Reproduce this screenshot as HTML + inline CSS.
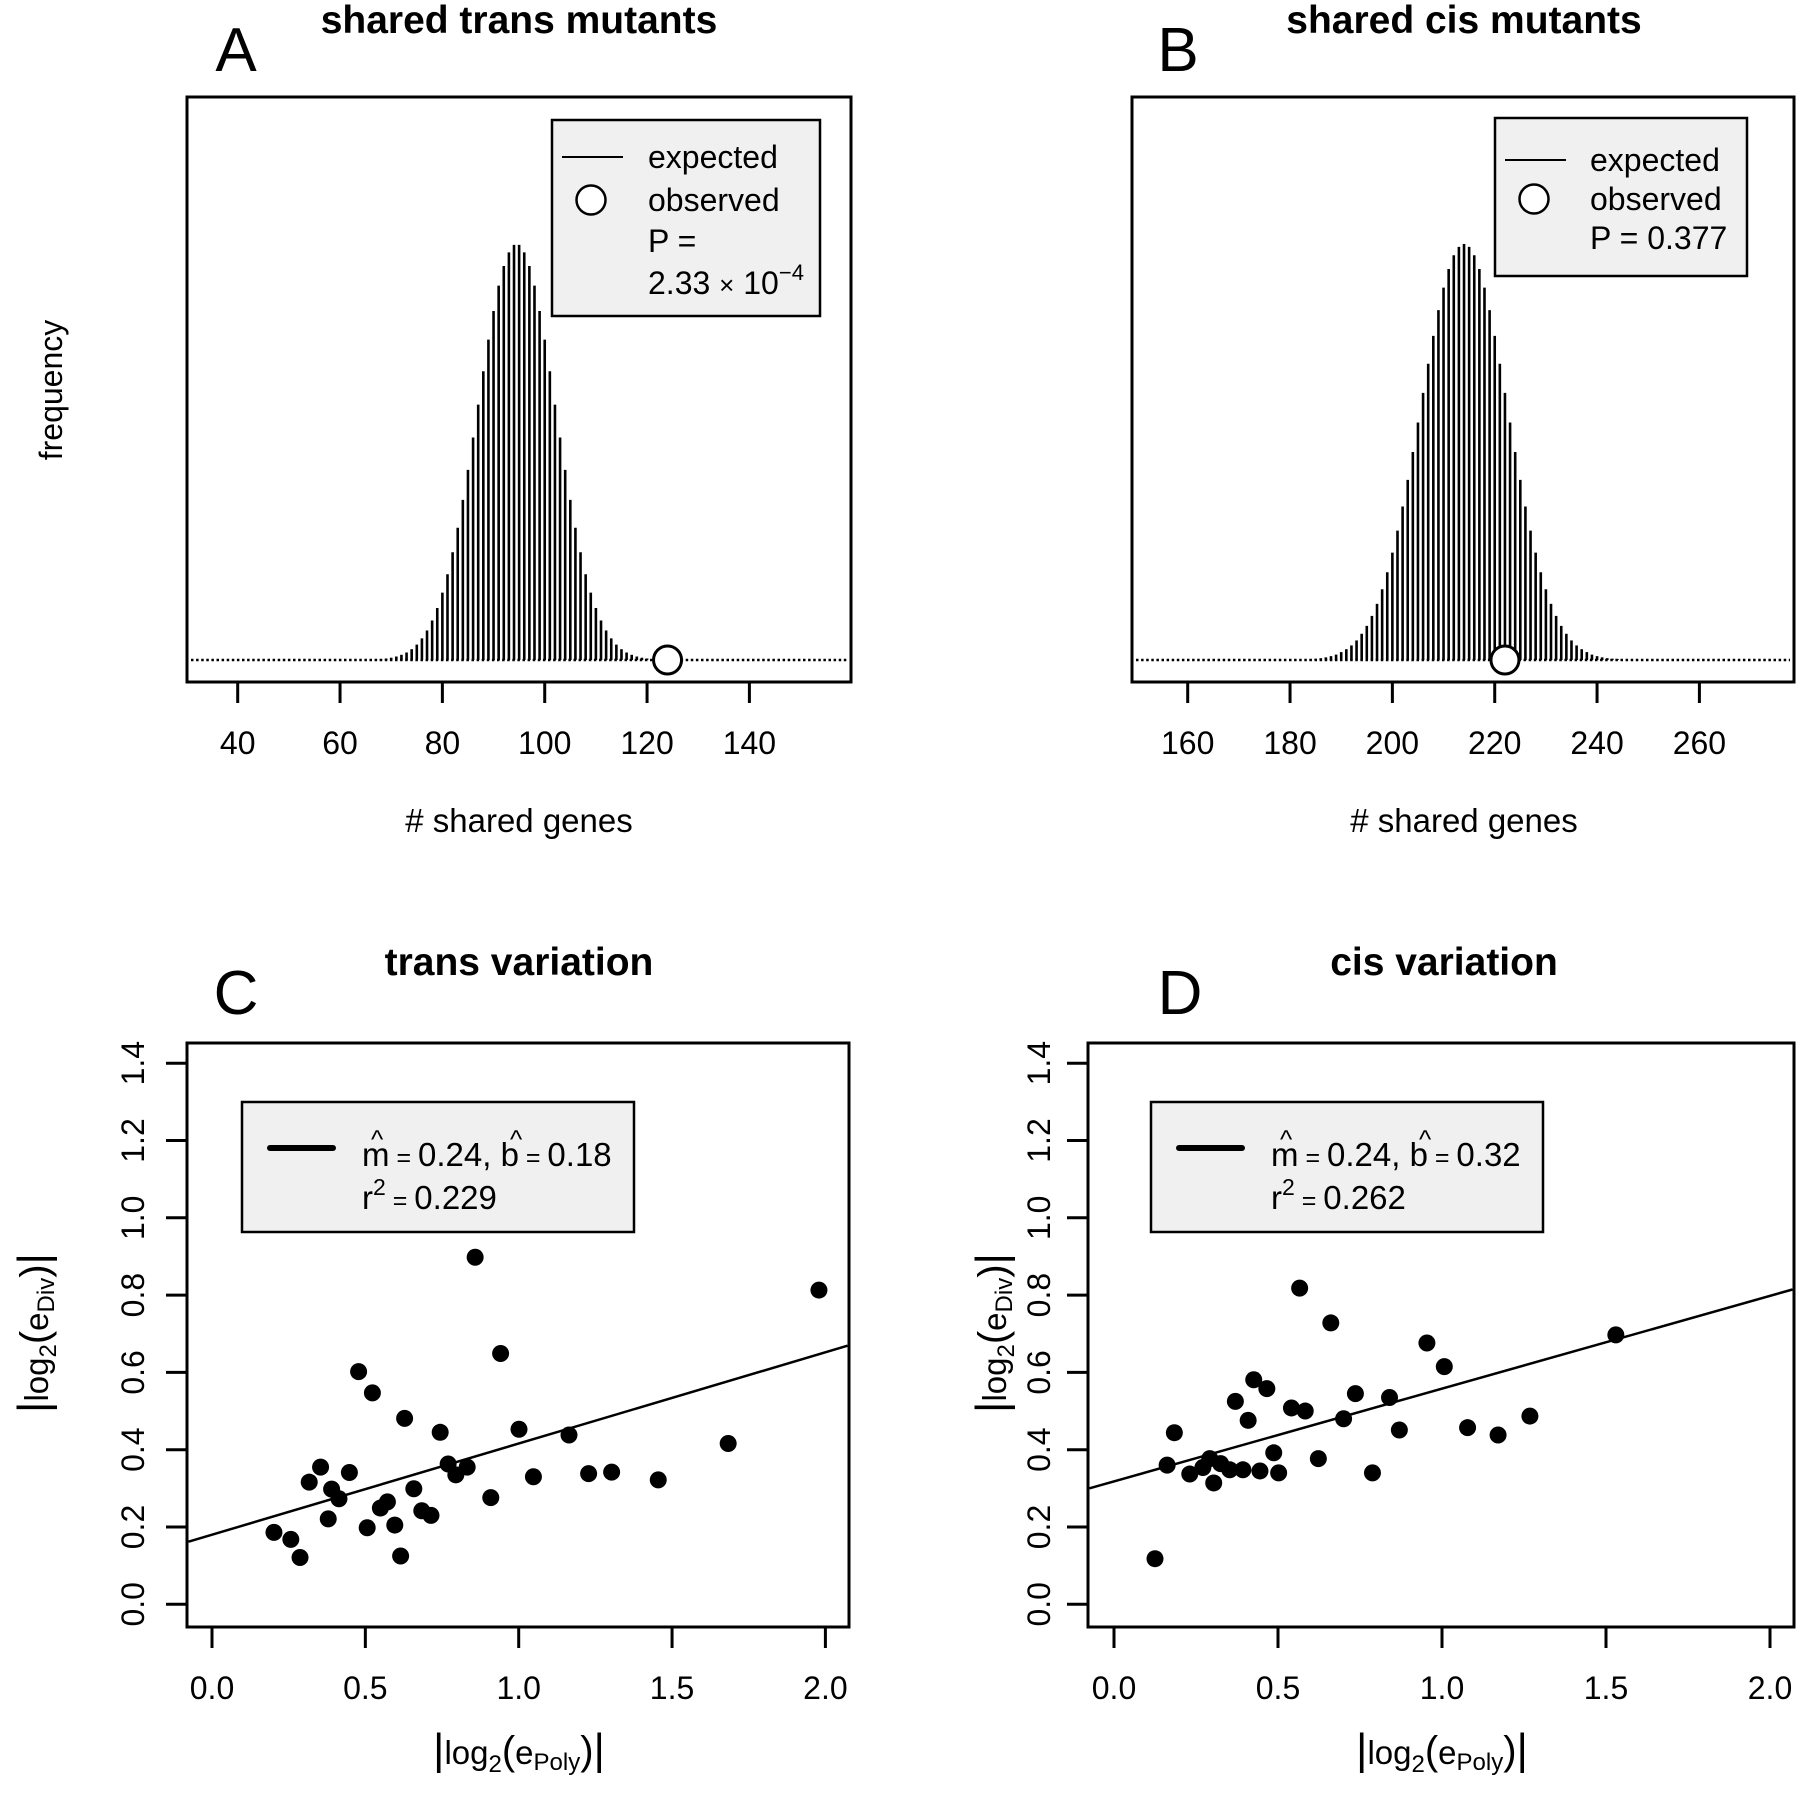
<!DOCTYPE html>
<html><head><meta charset="utf-8"><style>
html,body{margin:0;padding:0;background:#fff}
svg{display:block;font-family:"Liberation Sans",Arial,sans-serif}
</style></head><body>
<svg id="fig" width="1800" height="1793" viewBox="0 0 1800 1793" xmlns="http://www.w3.org/2000/svg">
<g id="pA">
 <text x="519" y="33" font-size="39" font-weight="bold" text-anchor="middle">shared trans mutants</text>
 <text x="236" y="71" font-size="62" text-anchor="middle">A</text>
 <text transform="translate(62,390) rotate(-90)" font-size="32" text-anchor="middle">frequency</text>
 <text x="519" y="832" font-size="33" text-anchor="middle"># shared genes</text>
</g>
<g id="pB">
 <text x="1464" y="33" font-size="39" font-weight="bold" text-anchor="middle">shared cis mutants</text>
 <text x="1178" y="71" font-size="62" text-anchor="middle">B</text>
 <text x="1464" y="832" font-size="33" text-anchor="middle"># shared genes</text>
</g>
<g id="pC">
 <text x="519" y="975" font-size="39" font-weight="bold" text-anchor="middle">trans variation</text>
 <text x="236" y="1014" font-size="62" text-anchor="middle">C</text>
</g>
<g id="pD">
 <text x="1444" y="975" font-size="39" font-weight="bold" text-anchor="middle">cis variation</text>
 <text x="1180" y="1014" font-size="62" text-anchor="middle">D</text>
</g>
</svg>
<script>
// ---- data ----
const histAStart = 66;
const histAValues = [0.0009,0.0014,0.0023,0.0036,0.0055,0.0084,0.0125,0.018,0.026,0.037,0.052,0.071,0.095,0.125,0.162,0.206,0.259,0.318,0.385,0.457,0.535,0.614,0.694,0.77,0.839,0.9,0.947,0.98,0.998,0.998,0.98,0.947,0.9,0.839,0.77,0.694,0.614,0.535,0.457,0.385,0.318,0.259,0.206,0.162,0.125,0.095,0.071,0.052,0.037,0.026,0.018,0.0125,0.0084,0.0055,0.0036,0.0023,0.0014,0.0009];
const histAObserved = 124;
const histATicks = [40,60,80,100,120,140];
const histBStart = 184;
const histBValues = [0.002,0.003,0.0044,0.0064,0.0093,0.013,0.019,0.026,0.035,0.047,0.063,0.082,0.106,0.135,0.17,0.211,0.258,0.311,0.369,0.433,0.5,0.571,0.642,0.712,0.779,0.841,0.895,0.94,0.973,0.993,1,0.993,0.973,0.94,0.895,0.841,0.779,0.712,0.642,0.571,0.5,0.433,0.369,0.311,0.258,0.211,0.17,0.135,0.106,0.082,0.063,0.047,0.035,0.026,0.019,0.013,0.0093,0.0064,0.0044,0.003,0.002];
const histBObserved = 222;
const histBTicks = [160,180,200,220,240,260];
const transX = [0.202,0.257,0.287,0.317,0.354,0.379,0.390,0.414,0.448,0.478,0.506,0.523,0.549,0.572,0.596,0.615,0.628,0.658,0.684,0.714,0.744,0.770,0.795,0.832,0.858,0.909,0.941,1.001,1.048,1.164,1.228,1.303,1.455,1.683,1.979];
const transY = [0.186,0.168,0.121,0.316,0.355,0.221,0.298,0.273,0.341,0.602,0.198,0.547,0.249,0.265,0.205,0.125,0.481,0.299,0.242,0.230,0.445,0.363,0.335,0.355,0.898,0.276,0.649,0.453,0.330,0.438,0.338,0.342,0.322,0.416,0.813];
const transFit = [0.236,0.18];
const cisX = [0.125,0.162,0.184,0.231,0.271,0.292,0.304,0.325,0.353,0.370,0.393,0.409,0.426,0.445,0.466,0.487,0.502,0.541,0.566,0.583,0.623,0.661,0.700,0.736,0.788,0.840,0.870,0.954,1.007,1.078,1.171,1.268,1.530];
const cisY = [0.118,0.360,0.444,0.337,0.354,0.377,0.314,0.364,0.348,0.525,0.348,0.476,0.581,0.345,0.558,0.392,0.340,0.508,0.818,0.500,0.377,0.728,0.480,0.545,0.340,0.535,0.451,0.676,0.615,0.457,0.438,0.487,0.697];
const cisFit = [0.24,0.318];
const scatXTicks = [0.0,0.5,1.0,1.5,2.0];
const scatYTicks = [0.0,0.2,0.4,0.6,0.8,1.0,1.2,1.4];

const NS="http://www.w3.org/2000/svg";
function mk(parent,tag,attrs,text){const e=document.createElementNS(NS,tag);for(const k in attrs)e.setAttribute(k,attrs[k]);if(text!==undefined)e.textContent=text;parent.appendChild(e);return e;}

function histPanel(g,box,xs,starts,vals,obs,ticks,legend){
  const x=v=>xs.x0+(v-xs.v0)*xs.k;
  const base=660, maxH=416, y=h=>base-h*maxH;
  const frame=mk(g,'rect',{x:box.l,y:box.t,width:box.r-box.l,height:box.b-box.t,fill:'none',stroke:'#000','stroke-width':3});
  
  
  const dl=mk(g,'line',{x1:box.l+4,y1:base,x2:box.r-4,y2:base,stroke:'#000','stroke-width':2.5,'stroke-dasharray':'2.5 2.6'});
  
  
  vals.forEach((v,i)=>{
    const xv=x(starts+i);
    const b=mk(g,'line',{x1:xv,y1:base,x2:xv,y2:y(v),stroke:'#000','stroke-width':2.6});
    
    
  });
  const c=mk(g,'circle',{cx:x(obs),cy:base,r:14,fill:'#fff',stroke:'#000','stroke-width':3});
  
  
  ticks.forEach(t=>{
    const tl=mk(g,'line',{x1:x(t),y1:box.b,x2:x(t),y2:box.b+21,stroke:'#000','stroke-width':3});
    
    
    const tt=mk(g,'text',{x:x(t),y:754,'font-size':32,'text-anchor':'middle'},String(t));
    
    
  });
  const lg=mk(g,'g',{});
  
  
  const lr=mk(lg,'rect',{x:legend.l,y:legend.t,width:legend.w,height:legend.h,fill:'#f0f0f0',stroke:'#000','stroke-width':2.5});
  
  
  const ll=mk(lg,'line',{x1:legend.l+10,y1:legend.rows[0],x2:legend.l+71,y2:legend.rows[0],stroke:'#000','stroke-width':2});
  
  
  const lc=mk(lg,'circle',{cx:legend.l+39,cy:legend.rows[1],r:14.5,fill:'#fff',stroke:'#000','stroke-width':2.5});
  
  
  legend.texts.forEach((t,i)=>{
    const te=mk(lg,'text',{x:legend.tx,y:legend.rows[i]+11,'font-size':32});
    te.innerHTML=t;
    
    
  });
}

histPanel(document.getElementById('pA'),{l:187,r:851,t:97,b:682},{x0:237.7,v0:40,k:5.117},histAStart,histAValues,histAObserved,histATicks,
 {l:552,t:120,w:268,h:196,rows:[157,200,241,283],tx:648,texts:['expected','observed','P =','2.33 <tspan font-size="26">×</tspan> 10<tspan dy="-14" font-size="22">−4</tspan>']});
histPanel(document.getElementById('pB'),{l:1132,r:1794,t:97,b:682},{x0:1187.7,v0:160,k:5.117},histBStart,histBValues,histBObserved,histBTicks,
 {l:1495,t:118,w:252,h:158,rows:[160,199,238],tx:1590,texts:['expected','observed','P = 0.377']});

function scatPanel(g,box,xs,xv,yv,fit,legend,yLabX,yTitleX,xTitleX){
  const x=v=>xs.x0+v*xs.k;
  const y=v=>1604.3-v*386.5;
  const frame=mk(g,'rect',{x:box.l,y:box.t,width:box.r-box.l,height:box.b-box.t,fill:'none',stroke:'#000','stroke-width':3});
  
  
  scatXTicks.forEach(t=>{
    const tl=mk(g,'line',{x1:x(t),y1:box.b,x2:x(t),y2:box.b+21,stroke:'#000','stroke-width':3});
    
    
    const tt=mk(g,'text',{x:x(t),y:1699,'font-size':32,'text-anchor':'middle'},t.toFixed(1));
    
    
  });
  scatYTicks.forEach(t=>{
    const tl=mk(g,'line',{x1:box.l,y1:y(t),x2:box.l-21,y2:y(t),stroke:'#000','stroke-width':3});
    
    
    const tt=mk(g,'text',{transform:`translate(${yLabX},${y(t)}) rotate(-90)`,'font-size':32,'text-anchor':'middle'},t.toFixed(1));
    
    
  });
  const xl=box.l+1.5, xr=box.r-1.5;
  const vl=(xl-xs.x0)/xs.k, vr=(xr-xs.x0)/xs.k;
  const fl=mk(g,'line',{x1:xl,y1:y(fit[1]+fit[0]*vl),x2:xr,y2:y(fit[1]+fit[0]*vr),stroke:'#000','stroke-width':2.5});
  
  
  xv.forEach((v,i)=>{
    const p=mk(g,'circle',{cx:x(v),cy:y(yv[i]),r:8.5,fill:'#000'});
    
    
  });
  const lg=mk(g,'g',{});
  
  
  const lr=mk(lg,'rect',{x:legend.l,y:1102,width:392,height:130,fill:'#f0f0f0',stroke:'#000','stroke-width':2.5});
  
  
  const ll=mk(lg,'line',{x1:legend.l+28,y1:1148,x2:legend.l+91,y2:1148,stroke:'#000','stroke-width':6,'stroke-linecap':'round'});
  
  
  const t1=mk(lg,'text',{x:legend.l+120,y:1166,'font-size':33});
  t1.innerHTML=`m<tspan font-size="25"> = </tspan>${legend.m}, b<tspan font-size="25"> = </tspan>${legend.b}`;
  
  
  const h1=mk(lg,'text',{x:legend.l+129,y:1148,'font-size':26},'^');
  
  
  const h2=mk(lg,'text',{x:legend.l+268,y:1148,'font-size':26},'^');
  
  
  const t2=mk(lg,'text',{x:legend.l+120,y:1209,'font-size':33});
  t2.innerHTML=`r<tspan dy="-14" font-size="23">2</tspan><tspan dy="14" font-size="25"> = </tspan>${legend.r}`;
  
  
  const yt=mk(g,'text',{transform:`translate(${yTitleX},1333) rotate(-90)`,'font-size':33,'text-anchor':'middle'});
  yt.innerHTML='<tspan font-size="44">|</tspan>log<tspan dy="8" font-size="24">2</tspan><tspan dy="-8" font-size="40">(</tspan>e<tspan dy="6" font-size="24">Div</tspan><tspan dy="-6" font-size="40">)</tspan><tspan font-size="44">|</tspan>';
  
  
  const xt=mk(g,'text',{x:xTitleX,y:1764,'font-size':33,'text-anchor':'middle'});
  xt.innerHTML='<tspan font-size="44">|</tspan>log<tspan dy="8" font-size="24">2</tspan><tspan dy="-8" font-size="40">(</tspan>e<tspan dy="6" font-size="24">Poly</tspan><tspan dy="-6" font-size="40">)</tspan><tspan font-size="44">|</tspan>';
  
  
}
scatPanel(document.getElementById('pC'),{l:187,r:849,t:1043,b:1627},{x0:212,k:306.7},transX,transY,transFit,{l:242,m:'0.24',b:'0.18',r:'0.229'},144,48,519);
scatPanel(document.getElementById('pD'),{l:1088,r:1794,t:1043,b:1627},{x0:1114,k:328},cisX,cisY,cisFit,{l:1151,m:'0.24',b:'0.32',r:'0.262'},1050,1006,1442);
</script>
</body></html>
